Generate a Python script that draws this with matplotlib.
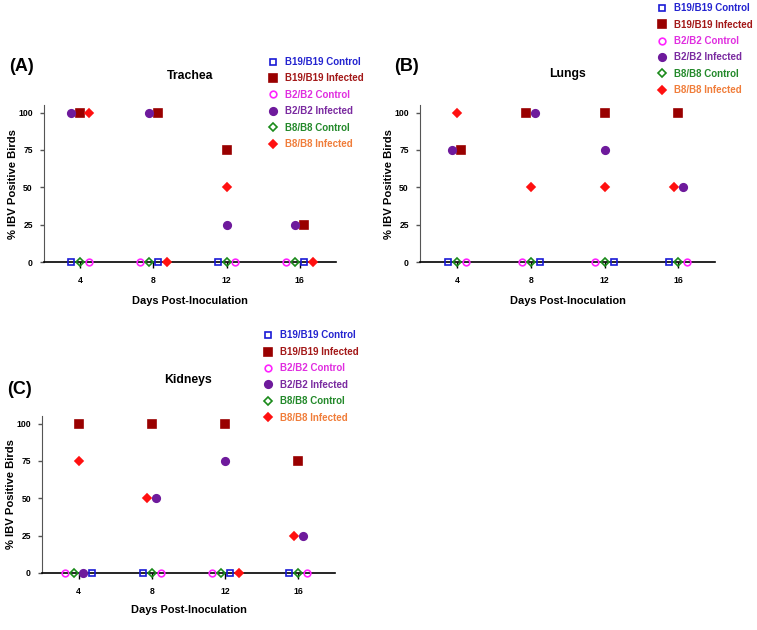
import matplotlib
matplotlib.use("Agg")
import matplotlib.pyplot as plt
from matplotlib.lines import Line2D

plt.rcParams['font.family'] = ['Liberation Sans', 'DejaVu Sans']
plt.rcParams['font.weight'] = 'bold'
plt.rcParams['axes.titleweight'] = 'bold'
plt.rcParams['axes.labelweight'] = 'bold'

days = [4, 8, 12, 16]
groups = ['B19/B19 Control', 'B19/B19 Infected', 'B2/B2 Control',
          'B2/B2 Infected', 'B8/B8 Control', 'B8/B8 Infected']

# % IBV positive birds per day
trachea_b19_ctrl = [0, 0, 0, 0]
trachea_b19_inf = [100, 100, 75, 25]
trachea_b2_ctrl = [0, 0, 0, 0]
trachea_b2_inf = [100, 100, 25, 25]
trachea_b8_ctrl = [0, 0, 0, 0]
trachea_b8_inf = [100, 0, 50, 0]

lungs_b19_ctrl = [0, 0, 0, 0]
lungs_b19_inf = [75, 100, 100, 100]
lungs_b2_ctrl = [0, 0, 0, 0]
lungs_b2_inf = [75, 100, 75, 50]
lungs_b8_ctrl = [0, 0, 0, 0]
lungs_b8_inf = [100, 50, 50, 50]

kidney_b19_ctrl = [0, 0, 0, 0]
kidney_b19_inf = [100, 100, 100, 75]
kidney_b2_ctrl = [0, 0, 0, 0]
kidney_b2_inf = [0, 50, 75, 25]
kidney_b8_ctrl = [0, 0, 0, 0]
kidney_b8_inf = [75, 50, 0, 25]

# horizontal dodge of overlapping points (in marker slots), per group per day
trachea_dodge = [[-1, 0.5, -1, 0.5], [0, 0.5, 0, 0.5], [1, -1.5, 1, -1.5],
                 [-1, -0.5, 0, -0.5], [0, -0.5, 0, -0.5], [1, 1.5, 0, 1.5]]
lungs_dodge = [[-1, 1, 1, -1], [0.5, -0.5, 0, 0], [1, -1, -1, 1],
               [-0.5, 0.5, 0, 0.5], [0, 0, 0, 0], [0, 0, 0, -0.5]]
kidney_dodge = [[1.5, -1, 0.5, -1], [0, 0, 0, 0], [-1.5, 1, -1.5, 1],
                [0.5, 0.5, 0, 0.5], [-0.5, 0, -0.5, 0], [0, -0.5, 1.5, -0.5]]

marker_styles = [('s', '#1a1ad6', 'none', 4.4), ('s', '#990000', '#990000', 5.2),
                 ('o', '#ff22ff', 'none', 4.8), ('o', '#6e1a9c', '#6e1a9c', 5.4),
                 ('D', '#1a8a1a', 'none', 3.9), ('D', '#ff1010', '#ff1010', 4.4)]
text_colors = ['#2424d0', '#a31818', '#e02ee0', '#7a2aa0', '#23892a', '#f07d3a']
slot = 0.49

fig = plt.figure(figsize=(7.57, 6.3), dpi=100)

panels = [
    ('Trachea', '(A)', [0.058, 0.5841, 0.386, 0.249],
     [trachea_b19_ctrl, trachea_b19_inf, trachea_b2_ctrl, trachea_b2_inf,
      trachea_b8_ctrl, trachea_b8_inf], trachea_dodge,
     (0.354, 0.9095), (0.012, 0.895), 19, 8),
    ('Lungs', '(B)', [0.5548, 0.5841, 0.39, 0.249],
     [lungs_b19_ctrl, lungs_b19_inf, lungs_b2_ctrl, lungs_b2_inf,
      lungs_b8_ctrl, lungs_b8_inf], lungs_dodge,
     (0.868, 0.995), (0.521, 0.895), 20.5, 8),
    ('Kidneys', '(C)', [0.0555, 0.0905, 0.387, 0.249],
     [kidney_b19_ctrl, kidney_b19_inf, kidney_b2_ctrl, kidney_b2_inf,
      kidney_b8_ctrl, kidney_b8_inf], kidney_dodge,
     (0.348, 0.4754), (0.010, 0.381), 23.5, 6.5),
]

for title, tag, rect, series, dodge, leg_pos, tag_pos, tpad, xpad in panels:
    ax = fig.add_axes(rect)
    for i, vals in enumerate(series):
        m, ec, fc, ms = marker_styles[i]
        xs = [d + o * slot for d, o in zip(days, dodge[i])]
        ax.plot(xs, vals, linestyle='none', marker=m, markersize=ms,
                markeredgecolor=ec, markerfacecolor=fc, markeredgewidth=1.2,
                clip_on=False, zorder=3)
    ax.set_xlim(2, 18)
    ax.set_ylim(0, 105)
    ax.set_xticks(days)
    ax.set_yticks([0, 25, 50, 75, 100])
    for s in ['top', 'right']:
        ax.spines[s].set_visible(False)
    ax.spines['left'].set_color('#555555')
    ax.spines['bottom'].set_color('black')
    ax.spines['bottom'].set_linewidth(1.2)
    ax.tick_params(axis='both', direction='out', labelsize=6.2, width=1)
    ax.tick_params(axis='x', length=4, pad=6)
    ax.tick_params(axis='y', length=3, pad=5, color='#555555')
    ax.set_xlabel('Days Post-Inoculation', fontsize=7.9, labelpad=xpad)
    ax.set_ylabel('% IBV Positive Birds', fontsize=8.1, labelpad=0)
    ax.set_title(title, fontsize=8.8, pad=tpad)
    fig.text(tag_pos[0], tag_pos[1], tag, fontsize=13, fontweight='bold',
             va='center')

    handles = [Line2D([], [], linestyle='none', marker=m, markersize=ms,
                      markeredgecolor=ec, markerfacecolor=fc, markeredgewidth=1.2)
               for m, ec, fc, ms in marker_styles]
    fig.legend(handles, groups, loc='upper left', bbox_to_anchor=leg_pos,
               bbox_transform=fig.transFigure, frameon=False, fontsize=7,
               borderpad=0, borderaxespad=0, handlelength=0.95,
               handletextpad=0.75, labelspacing=0.66,
               labelcolor=text_colors)

fig.savefig('out.png', dpi=100)
